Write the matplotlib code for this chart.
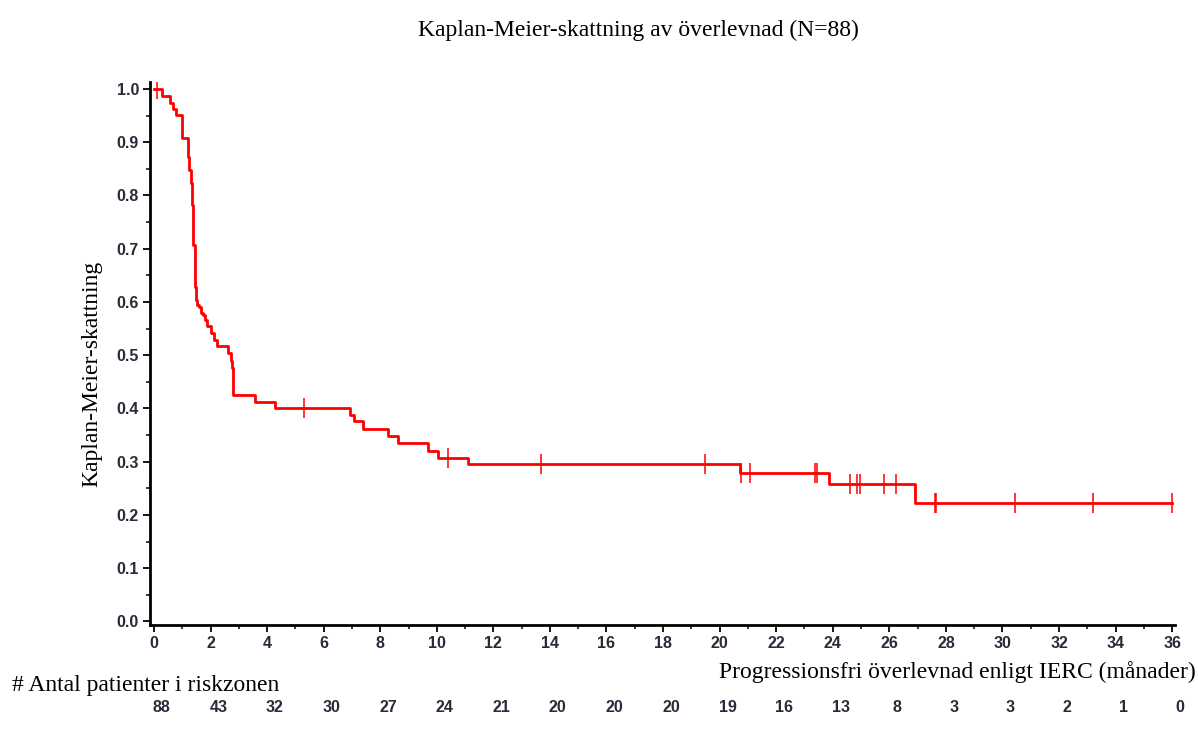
import numpy as np
import matplotlib
matplotlib.use('Agg')
import matplotlib.pyplot as plt
from matplotlib.ticker import MultipleLocator
import matplotlib.transforms as mtransforms

# Kaplan-Meier steg (tid i månader, överlevnad efter steget)
step_tid = [0, 0.27, 0.57, 0.68, 0.78, 0.98, 1.19, 1.25, 1.30, 1.33, 1.39, 1.45, 1.49,
            1.53, 1.60, 1.66, 1.72, 1.80, 1.86, 2.00, 2.12, 2.22, 2.63, 2.71, 2.76, 2.80,
            3.57, 4.28, 6.93, 7.07, 7.40, 8.29, 8.64, 9.70, 10.05, 11.11, 20.72, 23.88,
            26.91, 36.0]
step_surv = [1.0, 0.987, 0.974, 0.962, 0.951, 0.907, 0.873, 0.848, 0.823, 0.782, 0.707,
             0.629, 0.604, 0.595, 0.590, 0.580, 0.575, 0.567, 0.554, 0.542, 0.529, 0.518,
             0.504, 0.490, 0.476, 0.426, 0.413, 0.400, 0.388, 0.376, 0.361, 0.348, 0.335,
             0.321, 0.307, 0.296, 0.279, 0.259, 0.222, 0.222]

# censurerade observationer
censur_tid = [0.1, 5.32, 10.38, 13.67, 19.48, 20.76, 21.06, 23.37, 23.45, 24.61, 24.87,
              24.96, 25.81, 26.24, 27.60, 27.66, 30.45, 33.19, 35.98]

risk_tid = list(range(0, 37, 2))
risk_antal = [88, 43, 32, 30, 27, 24, 21, 20, 20, 20, 19, 16, 13, 8, 3, 3, 2, 1, 0]

serif = 'Liberation Serif'
sans = 'Liberation Sans'
tickfarg = '#2a2a3a'

fig = plt.figure(figsize=(11.98, 7.43), dpi=100)
ax = fig.add_axes([0.1252, 0.1588, 0.8556, 0.7308])

ax.step(step_tid, step_surv, where='post', color='red', lw=2.0)

idx = np.searchsorted(step_tid, censur_tid, side='right') - 1
censur_surv = np.array(step_surv)[idx]
ax.plot(censur_tid, censur_surv, ls='none', marker='|', ms=14, mew=1.1, color='red')

ax.set_xlim(-0.14, 36.1)
ax.set_ylim(-0.0066, 1.013)
ax.xaxis.set_major_locator(MultipleLocator(2))
ax.xaxis.set_minor_locator(MultipleLocator(1))
ax.yaxis.set_major_locator(MultipleLocator(0.1))
ax.yaxis.set_minor_locator(MultipleLocator(0.05))
ax.yaxis.set_major_formatter(matplotlib.ticker.FormatStrFormatter('%.1f'))

for s in ['top', 'right']:
    ax.spines[s].set_visible(False)
for s in ['left', 'bottom']:
    ax.spines[s].set_linewidth(2.0)

ax.tick_params(which='major', length=5, width=1.3, labelsize=11.5, colors='black',
               labelcolor=tickfarg, pad=3)
ax.tick_params(which='minor', length=3, width=1.1)
for lab in ax.get_xticklabels() + ax.get_yticklabels():
    lab.set_fontfamily(sans)
    lab.set_fontweight('bold')

fig.text(92 / 1198, 1 - 374 / 743, 'Kaplan-Meier-skattning', rotation=90,
         ha='center', va='center', fontfamily=serif, fontsize=17)
fig.text(638 / 1198, 1 - 30 / 743, 'Kaplan-Meier-skattning av överlevnad (N=88)',
         ha='center', va='center', fontfamily=serif, fontsize=17)
fig.text(1196 / 1198, 1 - 672 / 743, 'Progressionsfri överlevnad enligt IERC (månader)',
         ha='right', va='center', fontfamily=serif, fontsize=17)
fig.text(12 / 1198, 1 - 686 / 743, '# Antal patienter i riskzonen',
         ha='left', va='center', fontfamily=serif, fontsize=17)

trans = mtransforms.blended_transform_factory(ax.transData, fig.transFigure)
for t, n in zip(risk_tid, risk_antal):
    ax.text(t + 0.28, 1 - 708 / 743, str(n), transform=trans, ha='center', va='center',
            fontfamily=sans, fontsize=11.5, fontweight='bold', color=tickfarg)

fig.savefig('out.png', dpi=100)
